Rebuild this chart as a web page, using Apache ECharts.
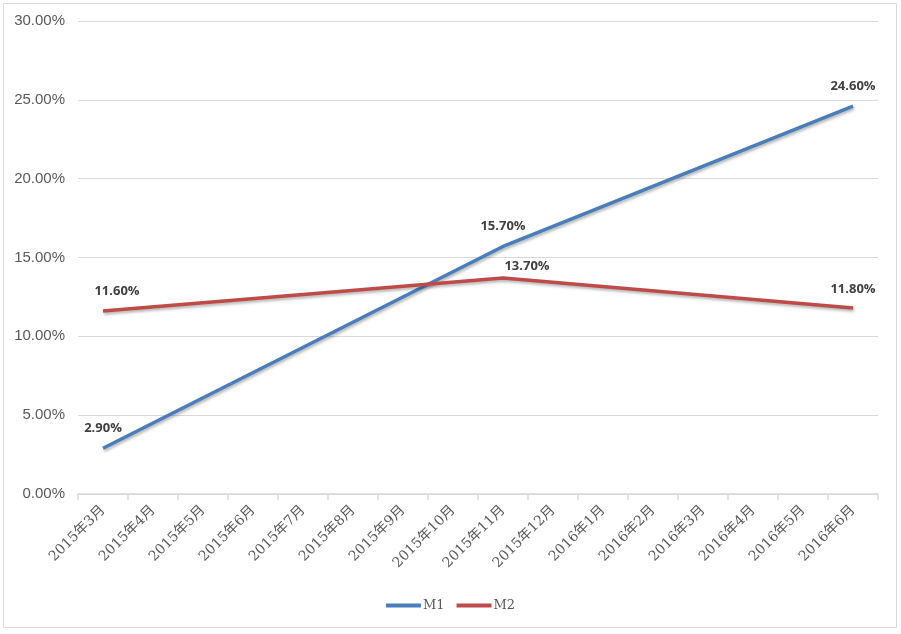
<!DOCTYPE html>
<html><head><meta charset="utf-8">
<script src="https://cdn.jsdelivr.net/npm/echarts@6/dist/echarts.min.js"></script>
<style>html,body{margin:0;padding:0;background:#fff}#c{width:901px;height:634px}</style>
</head><body><div id="c"></div>
<script>
const categories = ['2015年3月','2015年4月','2015年5月','2015年6月','2015年7月','2015年8月','2015年9月','2015年10月','2015年11月','2015年12月','2016年1月','2016年2月','2016年3月','2016年4月','2016年5月','2016年6月'];
const m1 = [2.9,null,null,null,null,null,null,null,15.7,null,null,null,null,null,null,24.6];
const m2 = [11.6,null,null,null,null,null,null,null,13.7,null,null,null,null,null,null,11.8];
const yTicks = [0,5,10,15,20,25,30];

const m1Label = {0:{position:'top',offset:[0,-8]},8:{position:'top',offset:[0,-9]},15:{position:'top',offset:[0,-8]}};
const m2Label = {0:{position:'top',offset:[14,-8]},8:{position:'top',offset:[24,0]},15:{position:'top',offset:[0,-7]}};
function build(arr, lab){return arr.map((v,i)=> v==null?null:{value:v,label:lab[i]});}

const chart = echarts.init(document.getElementById('c'));
chart.setOption({
  animation:false,
  backgroundColor:'#fff',
  graphic:[{type:'rect',shape:{x:3.5,y:3.5,width:893,height:624},style:{fill:'none',stroke:'#d9d9d9',lineWidth:1},silent:true}],
  grid:{left:78,right:23,top:21,bottom:140},
  legend:{bottom:17,left:'center',itemWidth:35,itemHeight:4,itemGap:12,icon:'rect',
    textStyle:{fontFamily:'"DejaVu Serif", "Liberation Serif", serif',fontSize:13,color:'#595959',padding:[0,0,0,-3]},
    data:['M1','M2']},
  xAxis:{type:'category',data:categories,boundaryGap:true,
    axisLine:{lineStyle:{color:'#d9d9d9',width:1.5}},
    axisTick:{show:true,length:6,lineStyle:{color:'#d9d9d9',width:1.5}},
    axisLabel:{rotate:45,interval:0,color:'#595959',fontSize:14,fontFamily:'"DejaVu Serif", "Noto Sans CJK SC", serif',margin:14}},
  yAxis:{type:'value',min:0,max:30,interval:5,
    axisLine:{show:false},axisTick:{show:false},
    splitLine:{lineStyle:{color:'#d9d9d9',width:1}},
    axisLabel:{formatter:v=>v.toFixed(2)+'%',color:'#595959',fontSize:15,fontFamily:'Liberation Sans, Arial, sans-serif',margin:13}},
  series:[
    {name:'M1',type:'line',data:build(m1,m1Label),connectNulls:true,symbol:'circle',symbolSize:0,
     lineStyle:{color:'#4a7ebb',width:3.5,shadowColor:'rgba(0,0,0,0.3)',shadowBlur:3,shadowOffsetX:1,shadowOffsetY:2},
     itemStyle:{color:'#4a7ebb'},
     label:{show:true,formatter:p=>p.value.toFixed(2)+'%',color:'#404040',fontWeight:'bold',fontSize:13,fontFamily:'"Open Sans", "Noto Sans", sans-serif'}},
    {name:'M2',type:'line',data:build(m2,m2Label),connectNulls:true,symbol:'circle',symbolSize:0,
     lineStyle:{color:'#be4b48',width:3.5,shadowColor:'rgba(0,0,0,0.3)',shadowBlur:3,shadowOffsetX:1,shadowOffsetY:2},
     itemStyle:{color:'#be4b48'},
     label:{show:true,formatter:p=>p.value.toFixed(2)+'%',color:'#404040',fontWeight:'bold',fontSize:13,fontFamily:'"Open Sans", "Noto Sans", sans-serif'}}
  ]
});
</script></body></html>
